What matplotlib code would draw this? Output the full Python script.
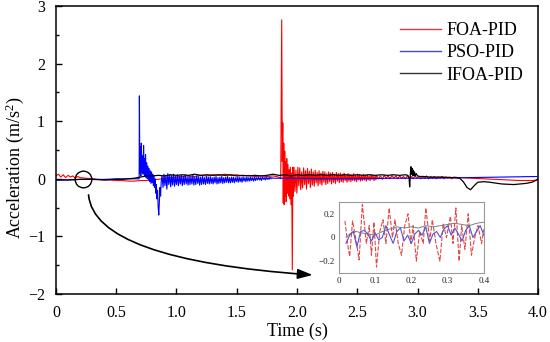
import numpy as np
import matplotlib
matplotlib.use("Agg")
import matplotlib.pyplot as plt
from matplotlib.lines import Line2D

plt.rcParams['font.family'] = ['Liberation Serif', 'DejaVu Serif']
plt.rcParams['mathtext.fontset'] = 'custom'
plt.rcParams['mathtext.rm'] = 'Liberation Serif'
plt.rcParams['mathtext.it'] = 'Liberation Serif:italic'

# ---------------- data ----------------
series_names = ["FOA-PID", "PSO-PID", "IFOA-PID"]

# FOA-PID (red)
foa_t_a = [0, 0.02, 0.04, 0.06, 0.08, 0.10, 0.12, 0.14, 0.16, 0.18, 0.20, 0.25, 0.30, 0.35,
           0.40, 0.45, 0.50, 0.55, 0.60, 0.65, 0.70, 0.75, 0.80, 0.85, 0.90, 0.95, 1.00,
           1.05, 1.10, 1.15, 1.20, 1.25, 1.30, 1.35, 1.40, 1.45, 1.50, 1.55, 1.60, 1.65,
           1.70, 1.75, 1.80, 1.85]
foa_y_a = [0.05, 0.08, 0.03, 0.07, 0.02, 0.06, 0.03, 0.05, 0.01, 0.04, 0.02, 0.01, 0.0, -0.01,
           -0.02, -0.02, -0.03, -0.03, -0.04, -0.04, -0.03, -0.03, -0.02, -0.01, 0.01, 0.02, 0.03,
           0.04, 0.05, 0.04, 0.06, 0.05, 0.07, 0.06, 0.08, 0.06, 0.07, 0.05, 0.06, 0.04,
           0.05, 0.04, 0.05, 0.03]
foa_t_spike = [1.865, 1.873, 1.878, 1.882, 1.886, 1.890, 1.894, 1.898, 1.902, 1.906, 1.910,
               1.915, 1.920, 1.925, 1.930, 1.935, 1.940, 1.945, 1.950, 1.956, 1.961, 1.966, 1.970]
foa_y_spike = [0.0, 2.76, 0.3, 0.97, -0.42, 0.62, -0.45, 0.48, -0.3, 0.3, -0.4, 0.35, -0.25,
               0.25, -0.3, 0.16, -0.35, 0.2, -0.45, 0.1, -1.58, 0.2, -0.3]
foa_dense1_range = (1.975, 2.655)
foa_y_dense1 = [0.20, -0.22, 0.15, -0.25, 0.20, -0.12, 0.19, -0.19, 0.12, -0.16,
                0.19, -0.10, 0.14, -0.18, 0.18, -0.08, 0.13, -0.15, 0.17, -0.11,
                0.12, -0.13, 0.15, -0.07, 0.11, -0.12, 0.14, -0.09, 0.10, -0.11,
                0.13, -0.06, 0.12, -0.10, 0.09, -0.08, 0.12, -0.05, 0.10, -0.09,
                0.11, -0.06, 0.08, -0.08, 0.11, -0.04, 0.09, -0.07, 0.10, -0.05,
                0.08, -0.06, 0.10, -0.03, 0.07, -0.06, 0.09, -0.04, 0.08, -0.05,
                0.07, -0.03, 0.09, -0.04, 0.06, -0.05, 0.08, -0.02, 0.07, -0.04,
                0.06, -0.03, 0.08, -0.02, 0.06, -0.04, 0.07, -0.02, 0.05, -0.03,
                0.07, -0.01, 0.06, -0.03, 0.05, -0.02]
foa_dense2_range = (2.66, 3.30)
foa_y_dense2 = [0.06, 0.0, 0.05, -0.01, 0.06, 0.01, 0.05, 0.0, 0.06, 0.01,
                0.05, 0.0, 0.05, 0.01, 0.04, 0.0, 0.05, 0.01, 0.04, 0.0,
                0.05, 0.01, 0.04, 0.0, 0.04, 0.01, 0.05, 0.0, 0.04, 0.01,
                0.04, 0.0, 0.03, 0.01, 0.04, 0.0, 0.03, 0.01, 0.03, 0.0, 0.03]
foa_t_tail = [3.35, 3.45, 3.55, 3.65, 3.75, 3.85, 3.95, 4.0]
foa_y_tail = [0.02, 0.01, 0.0, -0.01, -0.02, -0.03, -0.03, -0.02]

# PSO-PID (blue)
pso_t_a = [0, 0.1, 0.2, 0.3, 0.4, 0.5, 0.6, 0.65]
pso_y_a = [-0.02, -0.02, -0.01, -0.01, -0.01, 0.0, 0.0, 0.0]
pso_t_spike = [0.690, 0.692, 0.696, 0.700, 0.704, 0.708, 0.713, 0.718, 0.723, 0.727, 0.731,
               0.735, 0.739, 0.743, 0.748, 0.753, 0.758, 0.763, 0.768, 0.773, 0.778, 0.783,
               0.788, 0.793, 0.798, 0.803, 0.808, 0.813, 0.818, 0.823, 0.828, 0.833, 0.838,
               0.843, 0.848, 0.853, 0.858, 0.863, 0.868, 0.873]
pso_y_spike = [0.0, 1.44, 0.10, 0.55, 0.05, 0.62, 0.12, 0.40, 0.08, 0.58, 0.10, 0.35, 0.05,
               0.42, 0.02, 0.28, 0.0, 0.22, -0.02, 0.18, -0.05, 0.14, -0.08, 0.12, -0.06, 0.08,
               -0.12, 0.05, -0.15, 0.0, -0.25, -0.1, -0.35, -0.2, -0.5, -0.63, -0.4, -0.15,
               -0.3, -0.05]
pso_dense_range = (0.88, 1.80)
pso_y_dense = [0.05, -0.15, 0.08, -0.12, 0.06, -0.18, 0.09, -0.10, 0.07, -0.14,
               0.06, -0.11, 0.08, -0.13, 0.04, -0.10, 0.07, -0.12, 0.05, -0.09,
               0.06, -0.12, 0.04, -0.10, 0.07, -0.09, 0.03, -0.11, 0.05, -0.10,
               0.04, -0.09, 0.06, -0.11, 0.03, -0.10, 0.05, -0.08, 0.04, -0.11,
               0.03, -0.10, 0.05, -0.09, 0.02, -0.10, 0.04, -0.08, 0.03, -0.09,
               0.04, -0.08, 0.02, -0.09, 0.03, -0.07, 0.04, -0.09, 0.02, -0.08,
               0.03, -0.07, 0.04, -0.08, 0.02, -0.07, 0.03, -0.06, 0.04, -0.07,
               0.02, -0.07, 0.03, -0.06, 0.03, -0.07, 0.02, -0.05, 0.03, -0.06,
               0.03, -0.05, 0.02, -0.06, 0.03, -0.04, 0.02, -0.05, 0.03, -0.04,
               0.02, -0.04, 0.03, -0.03, 0.02, -0.04, 0.03, -0.03, 0.02, -0.02,
               0.03, -0.02, 0.02, -0.03, 0.03, -0.01, 0.02, -0.02, 0.03, -0.01,
               0.02, -0.01, 0.03, 0.0, 0.02, 0.01]
pso_t_tail = [1.85, 2.0, 2.2, 2.5, 2.8, 3.1, 3.4, 3.7, 4.0]
pso_y_tail = [0.01, 0.01, 0.0, 0.0, 0.01, 0.01, 0.02, 0.03, 0.04]

# IFOA-PID (black)
ifoa_t_a = [0, 0.1, 0.2, 0.3, 0.4, 0.5, 0.55, 0.6, 0.65, 0.7, 0.75]
ifoa_y_a = [-0.02, -0.02, -0.01, -0.01, -0.02, -0.01, -0.01, 0.0, 0.01, 0.03, 0.05]
ifoa_mid_range = (0.8, 2.9)
ifoa_y_mid = [0.05, 0.06, 0.05, 0.07, 0.06, 0.07, 0.06, 0.08, 0.06, 0.07,
              0.06, 0.07, 0.06, 0.07, 0.05, 0.06, 0.05, 0.06, 0.05, 0.06,
              0.08, 0.06, 0.07, 0.05, 0.07, 0.06, 0.07, 0.06, 0.07, 0.06,
              0.07, 0.06, 0.07, 0.06, 0.07, 0.06, 0.07, 0.06, 0.07, 0.06,
              0.07, 0.06, 0.07]
ifoa_t_tail = [2.92, 2.93, 2.935, 2.94, 2.945, 2.95, 2.955, 2.96, 2.965, 2.97, 2.975, 2.98,
               2.99, 3.0, 3.02, 3.05, 3.1, 3.2, 3.3, 3.35, 3.38, 3.41, 3.44, 3.47, 3.5, 3.55,
               3.6, 3.7, 3.8, 3.9, 3.95, 3.98, 4.0]
ifoa_y_tail = [0.06, 0.02, -0.14, 0.05, 0.21, 0.08, 0.18, 0.05, 0.15, 0.06, 0.12, 0.05,
               0.09, 0.05, 0.04, 0.04, 0.03, 0.03, 0.02, 0.01, -0.05, -0.15, -0.19, -0.12,
               -0.06, -0.05, -0.06, -0.09, -0.10, -0.08, -0.06, -0.03, 0.0]

# inset (zoom 0-0.4 s)
ins_foa_t = [0.017, 0.026, 0.030, 0.038, 0.049, 0.056, 0.065, 0.076, 0.084, 0.090, 0.097,
             0.104, 0.113, 0.122, 0.130, 0.139, 0.148, 0.155, 0.164, 0.173, 0.182, 0.191,
             0.199, 0.205, 0.214, 0.223, 0.233, 0.240, 0.251, 0.258, 0.268, 0.279, 0.288,
             0.297, 0.308, 0.315, 0.323, 0.332, 0.339, 0.348, 0.357, 0.366, 0.375, 0.384,
             0.394, 0.400]
ins_foa_y = [0.14, -0.09, -0.16, 0.14, -0.05, -0.19, 0.28, -0.05, 0.10, -0.15, 0.13,
             -0.25, 0.05, 0.15, -0.05, 0.25, 0.0, 0.15, -0.05, -0.15, 0.10, 0.20,
             -0.05, 0.10, -0.20, 0.05, -0.05, 0.25, -0.03, 0.15, -0.05, -0.20, 0.12,
             0.0, 0.18, -0.05, 0.25, -0.20, 0.10, -0.10, 0.20, -0.15, 0.0, 0.10,
             -0.05, 0.07]
ins_pso_t = [0.02, 0.03, 0.04, 0.05, 0.06, 0.07, 0.08, 0.09, 0.10, 0.11, 0.12, 0.13, 0.14,
             0.15, 0.16, 0.17, 0.18, 0.19, 0.20, 0.21, 0.22, 0.23, 0.24, 0.25, 0.26, 0.27,
             0.28, 0.29, 0.30, 0.31, 0.32, 0.33, 0.34, 0.35, 0.36, 0.37, 0.38, 0.39, 0.40]
ins_pso_y = [-0.05, 0.02, 0.05, -0.08, 0.05, 0.06, 0.03, -0.03, 0.04, -0.02, 0.0, 0.10,
             0.02, -0.05, 0.05, 0.08, -0.03, 0.02, -0.05, 0.03, 0.06, 0.02, 0.09, -0.05,
             0.03, 0.05, 0.0, 0.07, 0.10, 0.02, 0.08, 0.03, -0.03, 0.06, 0.10, 0.0, 0.05,
             0.10, 0.02]
ins_ifoa_t = [0.02, 0.03, 0.04, 0.05, 0.06, 0.08, 0.10, 0.12, 0.14, 0.16, 0.18, 0.20, 0.22,
              0.24, 0.26, 0.28, 0.30, 0.32, 0.34, 0.36, 0.38, 0.40]
ins_ifoa_y = [0.0, 0.03, 0.05, 0.05, 0.04, 0.03, 0.02, 0.05, 0.07, 0.09, 0.08, 0.09, 0.08,
              0.10, 0.09, 0.10, 0.11, 0.12, 0.11, 0.10, 0.12, 0.13]

x_ticks = [0, 0.5, 1.0, 1.5, 2.0, 2.5, 3.0, 3.5, 4.0]
x_ticklabels = ["0", "0.5", "1.0", "1.5", "2.0", "2.5", "3.0", "3.5", "4.0"]
y_ticks = [-2, -1, 0, 1, 2, 3]
ins_x_ticks = [0, 0.1, 0.2, 0.3, 0.4]
ins_x_ticklabels = ["0", "0.1", "0.2", "0.3", "0.4"]
ins_y_ticks = [-0.2, 0, 0.2]
ins_y_ticklabels = ["\u22120.2", "0", "0.2"]

circle_xy = (0.224, 0.0)
arrow_start = (0.27, -0.28)
arrow_end = (2.13, -1.67)

# ---------------- assemble ----------------
def grid(rng, vals):
    return list(np.linspace(rng[0], rng[1], len(vals)))

foa_t = foa_t_a + foa_t_spike + grid(foa_dense1_range, foa_y_dense1) + grid(foa_dense2_range, foa_y_dense2) + foa_t_tail
foa_y = foa_y_a + foa_y_spike + foa_y_dense1 + foa_y_dense2 + foa_y_tail
pso_t = pso_t_a + pso_t_spike + grid(pso_dense_range, pso_y_dense) + pso_t_tail
pso_y = pso_y_a + pso_y_spike + pso_y_dense + pso_y_tail
ifoa_t = ifoa_t_a + grid(ifoa_mid_range, ifoa_y_mid) + ifoa_t_tail
ifoa_y = ifoa_y_a + ifoa_y_mid + ifoa_y_tail

fig = plt.figure(figsize=(5.5, 3.42), dpi=100)
ax = fig.add_axes([0.1018, 0.1404, 0.8764, 0.842])

ax.plot(foa_t, foa_y, color='#ff0000', lw=0.8, zorder=2)
ax.plot(pso_t, pso_y, color='#0000ff', lw=0.8, zorder=3)
ax.plot(ifoa_t, ifoa_y, color='#000000', lw=0.9, zorder=4)

ax.set_xlim(0, 4.0)
ax.set_ylim(-2, 3)
ax.set_xticks(x_ticks)
ax.set_xticklabels(x_ticklabels)
ax.set_yticks(y_ticks)
ax.set_yticks([-1.5, -0.5, 0.5, 1.5, 2.5], minor=True)
ax.tick_params(axis='both', which='major', direction='in', length=4, width=1,
               labelsize=11.5, top=False, right=False)
ax.tick_params(axis='y', which='minor', direction='in', length=2.5, width=1)
ax.tick_params(axis='x', which='major', pad=8)
ax.tick_params(axis='y', which='major', pad=8)
for s in ax.spines.values():
    s.set_linewidth(1.1)

ax.set_xlabel("Time (s)", fontsize=13, labelpad=1)
ax.set_ylabel(r"Acceleration (m/s$^{2}$)", fontsize=13)
ax.yaxis.set_label_coords(-0.062, 0.44)

# circle and curved arrow
ax.plot([circle_xy[0]], [circle_xy[1]], marker='o', markersize=12, mfc='none',
        mec='black', mew=1.0, zorder=6)
ax.annotate("", xy=arrow_end, xytext=arrow_start,
            arrowprops=dict(arrowstyle='-|>,head_length=0.9,head_width=0.3',
                            connectionstyle='angle3,angleA=-85,angleB=-4',
                            color='black', lw=1.2, shrinkA=0, shrinkB=0))

# legend
handles = [Line2D([], [], color='#d44040', lw=1.0),
           Line2D([], [], color='#4848c0', lw=1.0),
           Line2D([], [], color='#333333', lw=1.0)]
ax.legend(handles, series_names, loc='upper right', bbox_to_anchor=(1.0, 0.995),
          frameon=False, fontsize=13, handlelength=2.3, handletextpad=0.3,
          labelspacing=0.3, borderaxespad=0.4)

# inset
ins = fig.add_axes([0.616, 0.2018, 0.2636, 0.2076])
ins.plot(ins_foa_t, ins_foa_y, color='#e04848', lw=0.8, ls=(0, (4, 1.5)))
ins.plot(ins_ifoa_t, ins_ifoa_y, color='#808080', lw=0.7)
ins.plot(ins_pso_t, ins_pso_y, color='#5555d0', lw=0.8)
ins.set_xlim(0, 0.4)
ins.set_ylim(-0.3, 0.3)
ins.set_xticks(ins_x_ticks)
ins.set_xticklabels(ins_x_ticklabels)
ins.set_yticks(ins_y_ticks)
ins.set_yticklabels(ins_y_ticklabels)
ins.tick_params(length=0, labelsize=6.5, pad=3, colors='#222222')
for s in ins.spines.values():
    s.set_color('#999999')
    s.set_linewidth(0.8)

fig.savefig("out.png", dpi=100)
